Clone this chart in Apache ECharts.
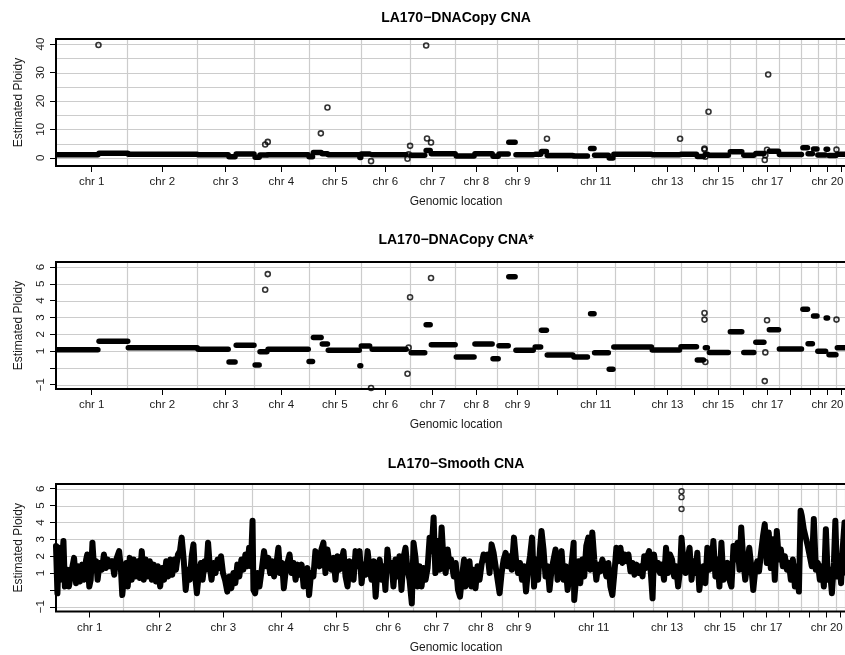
<!DOCTYPE html>
<html><head><meta charset="utf-8">
<script src="https://cdn.jsdelivr.net/npm/echarts@6/dist/echarts.min.js"></script>
<style>html,body{margin:0;padding:0;background:#fff}#c{width:845px;height:655px}</style>
</head><body><div id="c"></div>
<script>
// ---------- DATA ----------
const chromNames = ['chr 1','chr 2','chr 3','chr 4','chr 5','chr 6','chr 7','chr 8','chr 9','chr 10','chr 11',
  'chr 12','chr 13','chr 14','chr 15','chr 16','chr 17','chr 18','chr 19','chr 20','chr 21','chr 22'];
// chromosome extents (Mb) used by the DNACopy panels and by the smooth panel
const chromLenSeg = [249,243,198,191,181,171,159,146,141,135,135,134,96,88,82,90,81,78,59,63,33,35];
const chromLenSmooth = [235,247,202,199,188,174,161,149,115,135,138,136,101,92,84,79,82,78,60,62,33,38];
const labeledChroms = ['chr 1','chr 2','chr 3','chr 4','chr 5','chr 6','chr 7','chr 8','chr 9','chr 11','chr 13','chr 15','chr 17','chr 20'];
const panelTitles = ['LA170\u2212DNACopy CNA','LA170\u2212DNACopy CNA*','LA170\u2212Smooth CNA'];
const xTitle = 'Genomic location';
const yTitle = 'Estimated Ploidy';
const yTicksTop = [0,10,20,30,40];
const yGridTop = [0,5,10,15,20,25,30,35,40];
const yTicksLow = [-1,0,1,2,3,4,5,6];
const yGridLow = [-1,0,1,2,3,4,5,6];
const yLabelsLow = [-1,1,2,3,4,5,6];

// DNACopy segments: [start Mb, end Mb, ploidy] (genome-wide coordinate)
const segments = [
 [0,146,1.08],[150,250,1.58],[252,492,1.2],[495,600,1.1],[603,624,0.35],[628,690,1.34],[694,708,0.17],
 [711,735,0.96],[739,879,1.1],[882,894,0.38],[897,924,1.81],[928,946,1.42],[949,1057,1.04],[1059,1062,0.13],
 [1064,1093,1.3],[1102,1220,1.1],[1238,1285,0.9],[1290,1304,2.57],[1308,1391,1.38],[1395,1457,0.64],
 [1460,1520,1.42],[1523,1541,0.54],[1544,1576,1.32],[1578,1600,5.42],[1603,1663,1.04],[1670,1689,1.24],
 [1692,1709,2.23],[1712,1801,0.76],[1805,1852,0.64],[1863,1875,3.22],[1877,1925,0.9],[1928,1941,-0.09],
 [1944,2075,1.24],[2078,2173,1.06],[2178,2232,1.26],[2235,2256,0.46],[2263,2270,1.2],[2277,2343,0.92],
 [2350,2390,2.15],[2397,2432,0.92],[2439,2467,1.52],[2486,2518,2.27],[2521,2598,1.12],[2603,2619,3.48],
 [2621,2636,1.44],[2640,2652,3.08],[2655,2682,0.98],[2684,2689,2.96],[2694,2718,0.78],[2723,2788,1.2]
];
// isolated DNACopy points: [position Mb, ploidy]
const outliers = [
 [148,39.7],[729,4.65],[738,5.58],[923,8.6],[946,17.7],[1098,-1.2],[1225,-0.35],[1229,1.2],[1234,4.2],
 [1290,39.5],[1293,6.8],[1307,5.35],[1711,6.7],[2175,6.7],[2260,3.26],[2260,2.87],[2263,0.35],[2274,16.2],
 [2470,-0.79],[2472,0.92],[2478,2.83],[2482,29.3],[2720,2.87]
];
// smoothed trace: [position Mb, ploidy]
const smoothTrace = [
 [0,2.6],[5,-0.2],[10,2.5],[16,0.6],[26,2.9],[31,0.2],[40,1.2],[45,0.2],[53,1.0],[63,1.9],[70,0.4],[77,1.4],
 [84,0.5],[91,1.5],[98,0.6],[105,1.8],[109,2.1],[116,0.2],[121,0.6],[127,2.8],[133,1.2],[140,1.7],[145,0.6],
 [152,1.6],[160,1.2],[167,2.1],[174,1.3],[181,1.8],[188,1.4],[196,1.7],[203,0.9],[210,1.8],[220,2.3],[226,1.3],
 [231,-0.3],[237,0.8],[244,1.6],[250,0.2],[257,1.9],[264,0.6],[271,1.8],[278,0.8],[285,1.7],[292,0.7],[299,2.3],
 [306,0.6],[313,1.8],[320,0.8],[327,1.7],[334,0.6],[341,1.5],[348,0.5],[355,1.4],[363,0.2],[370,1.3],[377,0.6],
 [384,1.7],[391,0.8],[398,1.8],[405,0.9],[412,1.8],[418,1.2],[425,2.1],[432,2.3],[438,3.1],[445,1.8],[452,0.0],
 [459,1.2],[466,0.6],[473,2.0],[479,2.7],[485,0.8],[491,-0.2],[498,1.0],[505,1.6],[511,0.6],[518,1.7],[524,1.2],
 [530,2.8],[536,1.4],[542,0.6],[549,1.6],[556,1.0],[563,1.8],[570,1.3],[575,2.0],[582,1.0],[589,0.6],[597,-0.1],
 [604,0.8],[611,0.1],[618,1.0],[625,0.4],[632,1.5],[639,0.8],[646,1.8],[653,1.2],[660,2.1],[667,1.4],[673,2.5],
 [679,1.4],[685,4.1],[688,0.0],
 [694,-0.2],[702,1.0],[709,0.2],[717,1.2],[725,2.3],[732,1.4],[740,1.9],[746,1.0],[753,1.7],[760,0.8],[767,1.4],
 [775,2.5],[781,1.0],[788,1.6],[794,0.1],[801,1.2],[808,1.7],[814,2.1],[821,1.0],[828,1.6],[835,0.6],[842,1.5],
 [849,0.9],[856,1.5],[863,0.2],[870,1.0],[876,1.3],[882,-0.3],[889,1.0],[897,0.8],[904,2.3],[911,1.7],[918,1.4],
 [925,2.4],[932,2.8],[939,1.0],[946,2.4],[953,1.6],[960,1.2],[967,1.9],[974,0.6],[981,2.0],[988,1.2],[995,1.7],
 [1002,2.3],[1009,0.8],[1016,0.2],[1023,1.7],[1030,1.2],[1037,0.6],[1044,2.3],[1051,1.4],[1058,2.3],[1065,0.4],
 [1072,1.5],[1079,0.9],[1086,2.3],[1093,1.2],[1100,0.6],[1107,1.7],[1114,-0.4],[1121,1.4],[1128,1.8],[1135,0.6],
 [1142,1.4],[1148,0.0],[1155,2.4],[1162,1.2],[1169,1.6],[1176,0.2],[1183,1.8],[1190,0.8],[1197,2.0],[1204,0.0],
 [1211,1.9],[1218,2.5],[1225,1.2],[1232,0.6],[1240,-0.8],[1246,2.8],[1253,1.9],[1260,0.2],[1267,1.4],[1274,0.2],
 [1281,1.3],[1288,0.6],[1295,1.3],[1302,3.1],[1309,2.3],[1316,4.3],[1322,1.0],[1330,2.9],[1337,1.2],[1344,3.7],
 [1351,1.6],[1358,1.0],[1365,2.4],[1372,1.4],
 [1377,1.8],[1386,0.8],[1393,1.6],[1401,0.0],[1408,-0.4],[1415,0.8],[1422,1.8],[1427,0.2],[1434,0.8],[1441,1.7],
 [1448,0.2],[1455,1.2],[1462,0.1],[1469,1.4],[1476,0.6],[1483,1.5],[1490,2.1],[1497,1.8],[1504,2.1],[1511,1.0],
 [1518,2.7],[1525,2.2],[1532,1.4],[1539,0.6],[1546,-0.2],[1553,1.0],[1560,1.8],[1567,2.2],[1574,1.4],[1581,2.0],
 [1588,1.2],[1596,3.1],[1603,1.8],[1610,1.0],[1617,1.6],[1624,0.6],[1631,1.4],[1638,-0.1],[1645,1.2],[1652,2.0],
 [1659,3.1],[1666,0.2],[1673,1.8],[1680,0.6],[1687,2.5],[1692,3.5],[1699,2.4],[1706,0.8],[1713,1.4],[1720,0.0],
 [1727,1.2],[1734,1.8],[1741,2.4],[1748,0.6],[1755,1.4],[1762,2.3],[1769,0.6],[1776,1.4],[1783,0.0],[1790,1.0],
 [1797,1.6],[1804,2.8],[1806,-0.6],[1813,0.8],[1820,1.7],[1827,0.4],[1834,1.8],[1841,0.8],[1848,2.6],[1855,3.1],
 [1862,1.2],[1869,3.4],[1876,1.8],[1883,0.6],[1890,1.5],[1897,1.1],[1904,1.8],[1911,1.4],[1918,0.8],[1925,1.6],
 [1932,0.2],[1939,-0.3],[1946,1.0],[1953,2.5],[1960,1.7],[1967,2.5],[1974,1.6],[1981,2.1],[1988,1.7],[1995,2.1],
 [2002,1.1],[2009,1.6],[2016,0.9],[2023,1.5],[2030,1.0],[2037,1.4],[2044,0.8],[2050,2.0],[2056,1.3],
 [2061,2.0],[2067,2.3],[2073,1.0],[2079,-0.5],[2084,2.1],[2091,1.2],[2098,1.6],[2105,1.0],[2112,1.5],[2119,0.6],
 [2126,2.5],[2133,1.0],[2140,2.1],[2147,1.8],[2154,0.8],[2161,1.4],[2168,0.2],[2175,1.2],[2180,3.1],[2187,1.6],
 [2194,1.0],[2201,1.8],[2208,2.5],[2215,0.6],[2221,1.7],[2228,1.0],[2235,2.2],[2242,0.0],[2249,1.0],[2256,1.4],
 [2263,0.4],[2270,2.5],[2277,1.2],[2284,1.4],[2291,2.9],[2298,0.8],[2305,1.8],[2312,0.2],[2319,2.8],[2326,0.6],
 [2333,1.2],[2340,1.6],[2347,0.6],[2354,0.2],[2361,2.6],[2368,1.8],[2375,2.8],[2382,1.2],[2388,3.7],[2395,1.8],
 [2402,0.6],[2409,1.5],[2416,2.5],[2423,1.4],[2430,0.0],[2437,1.2],[2444,1.7],[2450,1.1],[2457,2.2],[2464,3.2],
 [2470,3.9],[2477,1.6],[2484,3.4],[2491,1.3],[2498,3.0],[2505,0.6],[2512,3.5],[2519,1.8],[2526,2.4],[2533,1.4],
 [2540,2.0],[2547,1.2],[2554,1.6],[2561,0.6],[2568,1.8],[2575,0.2],[2582,1.4],[2589,-0.1],[2595,4.7],[2599,4.4],
 [2606,3.6],[2613,3.1],[2620,2.6],[2627,2.0],[2634,1.4],[2641,4.2],[2648,1.2],[2655,1.6],[2662,0.6],[2669,1.4],
 [2676,0.2],[2683,3.6],[2690,0.6],[2697,1.2],[2704,-0.2],[2711,1.6],[2716,4.1],[2722,0.8],[2729,2.0],[2736,0.4],
 [2741,2.3],[2748,4.0],[2755,1.0],[2765,1.5],[2775,0.8],[2788,1.2]
];
const smoothOutliers = [[2180,5.85],[2180,5.5],[2180,4.8]];

// ---------- BUILD ----------
const FONT = '"Liberation Sans", Arial, Helvetica, sans-serif';
const GRID_COLOR = '#cccccc';
function chromLayout(lens){
  const centers=[], bounds=[]; let s=0;
  lens.forEach((l,i)=>{ centers.push(s+l/2); s+=l; if(i<lens.length-1) bounds.push(s); });
  return {centers, bounds, total:s};
}
const segLayout = chromLayout(chromLenSeg);
const smoothLayout = chromLayout(chromLenSmooth);

const panels = [
  {top:39,  height:127,   yMin:-2.9,  yMax:41.8, yTicks:yTicksTop, yLabels:yTicksTop, yGrid:yGridTop, lay:segLayout, kind:'seg', titleY:11},
  {top:262, height:127,   yMin:-1.26, yMax:6.30, yTicks:yTicksLow, yLabels:yLabelsLow, yGrid:yGridLow, lay:segLayout, kind:'seg', titleY:233},
  {top:484, height:127.5, yMin:-1.28, yMax:6.28, yTicks:yTicksLow, yLabels:yLabelsLow, yGrid:yGridLow, lay:smoothLayout, kind:'smooth', titleY:457}
];

const grid=[], xAxis=[], yAxis=[], series=[], title=[];
panels.forEach((p,i)=>{
  grid.push({left:56, top:p.top, width:800, height:p.height, show:true, borderColor:'#000', borderWidth:2,
    backgroundColor:'transparent', z:5, containLabel:false, outerBoundsMode:'none'});
  const labelCenters = labeledChroms.map(n => p.lay.centers[chromNames.indexOf(n)]);
  xAxis.push({
    gridIndex:i, type:'value', min:0, max:p.lay.total, position:'bottom',
    axisLine:{show:false, onZero:false}, splitLine:{show:false},
    axisTick:{show:true, customValues:p.lay.centers.slice(), length:6, lineStyle:{color:'#000', width:1}},
    axisLabel:{customValues:labelCenters, margin:10, fontSize:11.5, color:'#1a1a1a', fontFamily:FONT, hideOverlap:false,
      formatter:(v)=>{ let best=0, bd=1e9; p.lay.centers.forEach((c,k)=>{const d=Math.abs(c-v); if(d<bd){bd=d;best=k;}}); return chromNames[best]; }},
    name:xTitle, nameLocation:'middle', nameGap:30,
    nameTextStyle:{fontSize:12, color:'#1a1a1a', fontFamily:FONT}
  });
  yAxis.push({
    gridIndex:i, type:'value', min:p.yMin, max:p.yMax, position:'left',
    axisLine:{show:false, onZero:false}, splitLine:{show:false},
    axisTick:{show:true, customValues:p.yTicks.slice(), length:6, lineStyle:{color:'#000', width:1}},
    axisLabel:{customValues:p.yLabels.slice(), rotate:90, margin:9, fontSize:11.5, color:'#1a1a1a', fontFamily:FONT,
      formatter:(v)=> String(v).replace('-', '\u2212')},
    name:yTitle, nameLocation:'middle', nameGap:31, nameRotate:90,
    nameTextStyle:{fontSize:12, color:'#1a1a1a', fontFamily:FONT}
  });
  title.push({text:panelTitles[i], left:456, top:p.titleY, textAlign:'center', padding:0,
    textStyle:{fontSize:14, fontWeight:'bold', color:'#000', fontFamily:FONT}});

  // grid lines: chromosome boundaries (vertical) and ploidy levels (horizontal)
  const yLevels = p.yGrid.slice();
  const xBounds = p.lay.bounds.slice();
  series.push({
    type:'custom', xAxisIndex:i, yAxisIndex:i, z:1, silent:true, clip:true,
    data:[[p.lay.total/2, (p.yMin+p.yMax)/2]], encode:{x:0, y:1},
    renderItem:(params, api)=>{
      const cs = params.coordSys;
      const children = [];
      xBounds.forEach(b=>{
        const x = Math.round(api.coord([b, p.yMin])[0])+0.5;
        children.push({type:'line', shape:{x1:x, y1:cs.y, x2:x, y2:cs.y+cs.height}, style:{stroke:GRID_COLOR, lineWidth:1.2}});
      });
      yLevels.forEach(v=>{
        const y = Math.round(api.coord([0, v])[1])+0.5;
        children.push({type:'line', shape:{x1:cs.x, y1:y, x2:cs.x+cs.width, y2:y}, style:{stroke:GRID_COLOR, lineWidth:1.2}});
      });
      return {type:'group', children};
    }
  });

  if(p.kind==='seg'){
    series.push({
      type:'custom', xAxisIndex:i, yAxisIndex:i, z:3, silent:true, clip:true, data:segments,
      encode:{x:[0,1], y:2},
      renderItem:(params, api)=>{
        const a = api.coord([api.value(0), api.value(2)]);
        const b = api.coord([api.value(1), api.value(2)]);
        return {type:'line', shape:{x1:a[0], y1:a[1], x2:b[0], y2:b[1]}, style:{stroke:'#000', lineWidth:5.5, lineCap:'round'}};
      }
    });
    series.push({
      type:'scatter', xAxisIndex:i, yAxisIndex:i, z:4, silent:true, clip:true, data:outliers,
      symbol:'circle', symbolSize:5, itemStyle:{color:'rgba(0,0,0,0)', borderColor:'#000', borderWidth:1.6}
    });
  } else {
    series.push({
      type:'line', xAxisIndex:i, yAxisIndex:i, z:3, silent:true, clip:true, data:smoothTrace,
      showSymbol:false, symbol:'none',
      lineStyle:{color:'#000', width:6, join:'round', cap:'round'}
    });
    series.push({
      type:'scatter', xAxisIndex:i, yAxisIndex:i, z:4, silent:true, clip:true, data:smoothOutliers,
      symbol:'circle', symbolSize:5, itemStyle:{color:'rgba(0,0,0,0)', borderColor:'#000', borderWidth:1.4}
    });
  }
});

const chart = echarts.init(document.getElementById('c'), null, {renderer:'canvas'});
chart.setOption({animation:false, backgroundColor:'#fff', title, grid, xAxis, yAxis, series});
</script></body></html>
